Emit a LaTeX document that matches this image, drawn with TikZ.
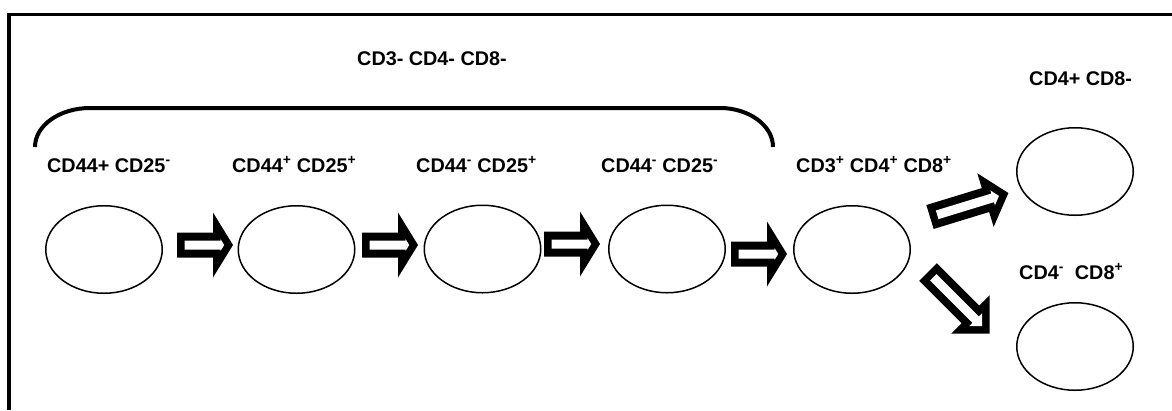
\documentclass[tikz,border=0pt]{standalone}
\usepackage{fontspec}
\setmainfont{Liberation Sans}
\usetikzlibrary{shapes.geometric}
\tikzset{
  cell/.style={draw, line width=1.5pt, ellipse, minimum width=116.5pt, minimum height=87.5pt, inner sep=0pt},
  lbl/.style={anchor=base west, inner sep=0pt, font=\fontsize{19.8}{22}\selectfont\bfseries},
  arrowout/.style={fill=black},
  arrowin/.style={fill=white},
  bracketline/.style={line width=4pt},
  frameline/.style={line width=3.5pt, line join=miter}
}
% #1,#2 tail centre; #3 angle; #4 length; #5 head base; #6 head half-width
\newcommand\blockarrow[6]{%
  \begin{scope}[shift={(#1,#2)},rotate=#3]
    \pgfmathsetmacro\myta{#6/(#4-#5)}
    \pgfmathsetmacro\mysa{sin(atan(\myta))}
    \pgfmathsetmacro\myitip{#4-7.5/\mysa}
    \pgfmathsetmacro\myihb{#5+7.5}
    \pgfmathsetmacro\myihh{max(4.5,(\myitip-\myihb)*\myta)}
    \fill[arrowout] (0,-12.5) -- (#5,-12.5) -- (#5,-#6) -- (#4,0) -- (#5,#6) -- (#5,12.5) -- (0,12.5) -- cycle;
    \fill[arrowin] (7.5,-4.5) -- (\myihb,-4.5) -- (\myihb,-\myihh) -- (\myitip,0) -- (\myihb,\myihh) -- (\myihb,4.5) -- (7.5,4.5) -- cycle;
  \end{scope}}
\begin{document}
\begin{tikzpicture}[x=1pt,y=-1pt]
\useasboundingbox (0,0) rectangle (1172,410);
% frame
\draw[frameline] (9,410) -- (9,14.5) -- (1172,14.5);
% bracket
\draw[bracketline] (35,147) .. controls (35,125.5) and (59.6,108) .. (90,108) -- (720,108) .. controls (749,108) and (773,125.5) .. (773,147);
% labels
\node[lbl] (t0) at (357,65) {CD3- CD4- CD8-};
\node[lbl] (t1) at (47,172) {CD44+ CD25\textsuperscript{-}};
\node[lbl] (t2) at (232,172) {CD44\textsuperscript{+} CD25\textsuperscript{+}};
\node[lbl] (t3) at (416,172) {CD44\textsuperscript{-} CD25\textsuperscript{+}};
\node[lbl] (t4) at (601,172) {CD44\textsuperscript{-} CD25\textsuperscript{-}};
\node[lbl] (t5) at (796,172) {CD3\textsuperscript{+} CD4\textsuperscript{+} CD8\textsuperscript{+}};
\node[lbl] (t6) at (1029,85) {CD4+ CD8-};
\node[lbl] (t7) at (1019,279) {CD4\textsuperscript{-}\ \ CD8\textsuperscript{+}};
% cells
\node[cell] (e1) at (104,249.5) {};
\node[cell] (e2) at (296.5,249.5) {};
\node[cell] (e3) at (482.5,249) {};
\node[cell] (e4) at (667,249) {};
\node[cell] (e5) at (852,249.5) {};
\node[cell] (e6) at (1075,171.5) {};
\node[cell] (e7) at (1075,346.5) {};
% arrows
\blockarrow{177}{245}{0}{56}{36}{32.5}
\blockarrow{362}{245}{0}{56}{36}{32.5}
\blockarrow{544}{244}{0}{56}{36}{32.5}
\blockarrow{731}{254}{0}{56}{36}{32.5}
\blockarrow{930}{217}{17}{82}{58}{28}
\blockarrow{928}{272}{-45}{87}{60}{27}
\end{tikzpicture}
\end{document}
